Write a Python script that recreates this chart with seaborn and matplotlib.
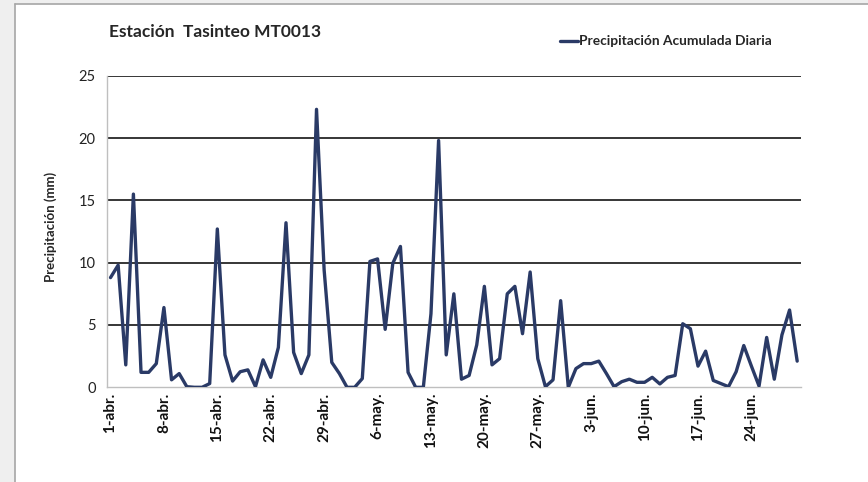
import numpy as np
import pandas as pd
import matplotlib
matplotlib.use('Agg')
import matplotlib.pyplot as plt
import matplotlib.patches as mpatches
import seaborn as sns

# Daily accumulated precipitation (mm), 1-abr to 30-jun
precip = [8.8, 9.8, 1.8, 15.5, 1.2, 1.2, 1.9, 6.4, 0.6, 1.1,
          0.05, 0.0, 0.0, 0.3, 12.7, 2.6, 0.5, 1.25, 1.4, 0.05,
          2.2, 0.8, 3.2, 13.2, 2.8, 1.1, 2.6, 22.3, 9.4, 2.0,
          1.1, 0.0, 0.0, 0.7, 10.1, 10.3, 4.65, 9.95, 11.3, 1.2,
          0.0, 0.0, 5.9, 19.8, 2.6, 7.5, 0.65, 0.95, 3.4, 8.1,
          1.8, 2.3, 7.5, 8.1, 4.3, 9.25, 2.3, 0.05, 0.6, 6.95,
          0.0, 1.5, 1.9, 1.9, 2.1, 1.1, 0.05, 0.45, 0.65, 0.4,
          0.4, 0.8, 0.27, 0.8, 0.95, 5.1, 4.7, 1.7, 2.9, 0.55,
          0.3, 0.05, 1.25, 3.35, 1.7, 0.1, 4.0, 0.65, 4.2, 6.2,
          2.1]
tick_labels = ['1-abr.', '8-abr.', '15-abr.', '22-abr.', '29-abr.', '6-may.',
               '13-may.', '20-may.', '27-may.', '3-jun.', '10-jun.', '17-jun.',
               '24-jun.']
y_ticks = [0, 5, 10, 15, 20, 25]

title = 'Estación  Tasinteo MT0013'
series_name = 'Precipitación Acumulada Diaria'
line_color = '#2a3a66'

sns.set_style('white')
plt.rcParams['font.family'] = ['Lato', 'DejaVu Sans']

df = pd.DataFrame({'dia': np.arange(len(precip)), 'precip': precip})

fig = plt.figure(figsize=(8.68, 4.82), dpi=100)
fig.patch.set_facecolor('#efefef')

# white chart area with grey border on top/left
W, H = 868, 482
fig.add_artist(mpatches.Rectangle((15 / W, 0), 1, 1 - 4 / H, transform=fig.transFigure,
                                  facecolor='white', edgecolor='none', zorder=-5))
fig.add_artist(plt.Line2D([15 / W, 1], [1 - 4 / H, 1 - 4 / H], transform=fig.transFigure,
                          color='#a6a6a6', lw=1.2, zorder=-4))
fig.add_artist(plt.Line2D([15 / W, 15 / W], [0, 1 - 4 / H], transform=fig.transFigure,
                          color='#a6a6a6', lw=1.2, zorder=-4))

ax = fig.add_axes([106.7 / W, (H - 387.3) / H, (801 - 106.7) / W, 311.6 / H])
ax.set_facecolor('white')

sns.lineplot(data=df, x='dia', y='precip', ax=ax, color=line_color, lw=2.4,
             label=series_name, legend=False, zorder=3)

ax.set_xlim(-0.5, len(precip) - 0.5)
ax.set_ylim(0, 25)
ax.set_yticks(y_ticks)
ax.set_yticklabels([str(v) for v in y_ticks], fontsize=10.5, color='#222222')

# category boundaries as ticks, labels at category centres
ax.set_xticks(np.arange(-0.5, len(precip), 7))
ax.set_xticklabels([])
ax.set_xticks(np.arange(0, len(precip), 7)[:len(tick_labels)], minor=True)
ax.set_xticklabels(tick_labels, minor=True, rotation=90, fontsize=11,
                   fontweight='bold', color='#111111')
ax.tick_params(axis='x', which='major', length=5, width=1, color='#bfbfbf', direction='out')
ax.tick_params(axis='x', which='minor', length=0, pad=4)
ax.tick_params(axis='y', length=5, width=1, color='#bfbfbf', direction='out', pad=3)

ax.yaxis.grid(True, color='#262626', lw=1.3)
ax.set_axisbelow(True)
ax.xaxis.grid(False)
fig.canvas.draw()
ax.yaxis.get_gridlines()[0].set_visible(False)

for s in ['top', 'right']:
    ax.spines[s].set_visible(False)
for s in ['left', 'bottom']:
    ax.spines[s].set_color('#bfbfbf')
    ax.spines[s].set_linewidth(1)

ax.set_xlabel('')
ax.set_ylabel('Precipitación (mm)', fontsize=9.5, fontweight='bold')
ax.yaxis.set_label_coords(-50 / (801 - 106.7), (387.3 - 227) / 311.6)

fig.text(109 / W, 1 - 32 / H, title, fontsize=12.5, fontweight='bold', va='center', ha='left')

# legend
fig.add_artist(plt.Line2D([560 / W, 578 / W], [1 - 41 / H, 1 - 41 / H], transform=fig.transFigure,
                          color=line_color, lw=2.4))
fig.text(579 / W, 1 - 41 / H, series_name, fontsize=9.9, fontweight='bold', va='center', ha='left')

fig.savefig('out.png', dpi=100, facecolor=fig.get_facecolor())
